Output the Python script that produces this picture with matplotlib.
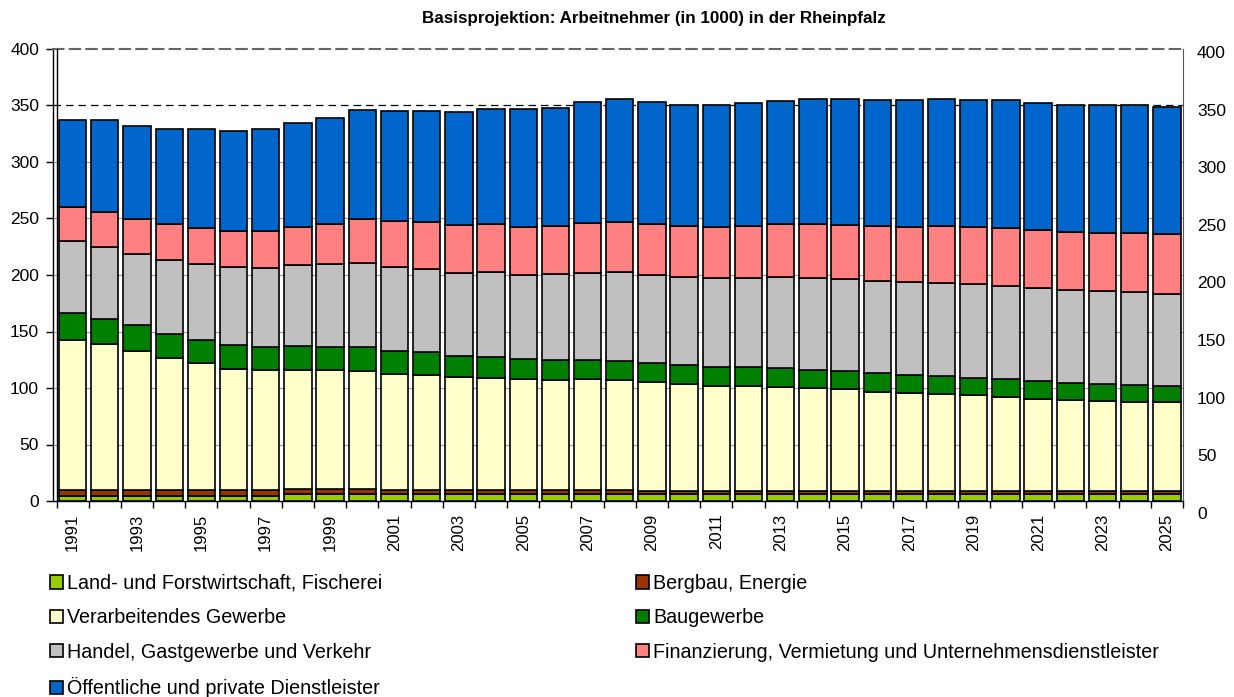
import numpy as np
import matplotlib
matplotlib.use('Agg')
import matplotlib.pyplot as plt

plt.rcParams['font.family'] = ['Liberation Sans', 'DejaVu Sans']

years = list(range(1991, 2026))

# Arbeitnehmer in 1000, je Wirtschaftsbereich
land = [4.8, 4.8, 4.8, 4.8, 4.8, 4.8, 4.8, 5.8, 5.8, 5.8,
        5.8, 5.8, 5.8, 5.8, 5.8, 5.8, 5.8, 5.8, 5.8, 5.8,
        5.8, 5.8, 5.8, 5.8, 5.8, 5.8, 5.8, 5.8, 5.8, 5.8,
        5.8, 5.8, 5.8, 5.8, 5.8]
bergbau = [4.5, 4.5, 4.5, 4.5, 4.5, 4.5, 4.5, 5.0, 5.0, 5.0,
           4.0, 4.0, 3.5, 3.5, 3.5, 3.5, 3.5, 3.5, 3.0, 3.0,
           3.0, 3.0, 3.0, 3.0, 3.0, 3.0, 3.0, 3.0, 3.0, 3.0,
           3.0, 3.0, 3.0, 3.0, 3.0]
verarb = [133.2, 129.7, 123.4, 117.0, 113.1, 107.5, 106.9, 105.4, 105.1, 104.5,
          102.9, 102.0, 100.4, 99.5, 98.7, 98.1, 98.7, 97.8, 96.5, 94.7,
          93.0, 93.0, 92.1, 90.9, 90.0, 87.9, 86.8, 85.9, 84.7, 83.5,
          81.7, 80.8, 80.0, 79.1, 78.5]
bau = [23.5, 22.5, 22.8, 21.2, 20.1, 21.0, 20.4, 21.3, 20.4, 20.7,
       20.3, 19.8, 18.3, 18.3, 17.4, 17.6, 16.8, 17.1, 17.1, 16.9,
       17.1, 16.5, 16.8, 16.5, 15.9, 16.6, 16.2, 15.9, 15.6, 15.7,
       15.7, 15.1, 15.0, 14.8, 14.2]
handel = [64.0, 63.5, 63.5, 65.8, 67.2, 69.6, 69.9, 71.3, 73.1, 74.9,
          74.4, 73.6, 74.1, 75.9, 74.9, 75.6, 77.3, 78.2, 77.9, 78.1,
          78.4, 79.3, 80.5, 81.4, 81.5, 81.1, 81.7, 82.0, 82.6, 82.5,
          82.0, 81.7, 81.8, 82.0, 82.0]
finanz = [30.0, 30.5, 30.6, 31.5, 32.2, 31.8, 32.7, 33.7, 36.0, 38.9,
          40.4, 41.3, 41.9, 41.8, 42.5, 42.8, 44.2, 44.8, 45.1, 44.9,
          45.5, 46.0, 46.6, 47.4, 48.0, 49.0, 49.3, 50.8, 51.1, 51.4,
          51.6, 51.9, 51.9, 52.8, 52.8]
dienst = [77.5, 82.0, 82.4, 84.2, 87.1, 88.5, 90.3, 91.7, 93.8, 96.2,
          97.0, 98.9, 100.2, 102.4, 103.8, 104.7, 106.8, 108.6, 107.7, 107.0,
          107.6, 108.6, 109.5, 110.5, 111.3, 111.2, 111.8, 112.1, 112.4, 113.0,
          112.4, 112.1, 112.9, 112.9, 112.6]

series = [land, bergbau, verarb, bau, handel, finanz, dienst]
labels = ['Land- und Forstwirtschaft, Fischerei', 'Bergbau, Energie',
          'Verarbeitendes Gewerbe', 'Baugewerbe',
          'Handel, Gastgewerbe und Verkehr',
          'Finanzierung, Vermietung und Unternehmensdienstleister',
          'Öffentliche und private Dienstleister']
colors = ['#99CC00', '#993300', '#FFFFCC', '#008000', '#C0C0C0', '#FF8080', '#0066CC']

W, H = 1234, 697
fig = plt.figure(figsize=(W / 100, H / 100), dpi=100)
ax = fig.add_axes([53 / W, 1 - 501 / H, (1183 - 53) / W, (501 - 49) / H])

x = np.arange(len(years))
bottom = np.zeros(len(years))
handles = []
for vals, lab, col in zip(series, labels, colors):
    b = ax.bar(x, vals, width=0.85, bottom=bottom, color=col, edgecolor='black',
               linewidth=1.2, label=lab, zorder=2)
    handles.append(b)
    bottom += np.array(vals)

ax.set_xlim(-0.61, len(years) - 0.5)
ax.set_ylim(0, 400)
ax.set_yticks(range(0, 401, 50))
for yv in range(50, 301, 50):
    ax.axhline(yv, color='#999999', lw=0.8, zorder=0)
ax.axhline(350, color='black', lw=0.9, ls=(0, (6, 4)), zorder=0.5)
ax.axvline(-0.5, color='black', lw=1.0, zorder=3)

ax.spines['top'].set_linestyle((0, (5, 3)))
ax.spines['top'].set_color('#666666')
ax.spines['top'].set_linewidth(1.5)
ax.spines['right'].set_color('#555555')
ax.spines['left'].set_linewidth(1.0)
ax.spines['bottom'].set_linewidth(1.0)

ax.set_xticks(x[::2])
ax.set_xticklabels([str(y) for y in years[::2]], rotation=90, fontsize=12)
ax.set_xticks(np.arange(-0.5, len(years), 1), minor=True)
ax.tick_params(axis='x', which='major', length=0, pad=9)
ax.tick_params(axis='x', which='minor', length=5, width=1)
ax.tick_params(axis='y', labelsize=12.5, length=5, width=1, pad=5)

# rechte Achsenbeschriftung
ax2 = fig.add_axes([53 / W, 1 - 513 / H, (1183 - 53) / W, (513 - 52) / H])
ax2.set_ylim(0, 400)
ax2.set_yticks(range(0, 401, 50))
ax2.yaxis.tick_right()
ax2.tick_params(axis='y', length=0, labelsize=12.5, pad=10)
ax2.set_xticks([])
ax2.patch.set_visible(False)
for s in ax2.spines.values():
    s.set_visible(False)

fig.text(654 / W, 1 - 18 / H, 'Basisprojektion: Arbeitnehmer (in 1000) in der Rheinpfalz',
         ha='center', va='center', fontsize=12.25, fontweight='bold')

order = [0, 2, 4, 6, 1, 3, 5]
fig.legend([handles[i] for i in order], [labels[i] for i in order],
           loc='upper left', bbox_to_anchor=(42 / W, 1 - 566 / H), ncol=2,
           frameon=False, fontsize=14.2, handlelength=0.65, handleheight=0.65,
           handletextpad=0.2, labelspacing=0.78, columnspacing=12.9,
           borderaxespad=0)

fig.savefig('out.png', dpi=100)
